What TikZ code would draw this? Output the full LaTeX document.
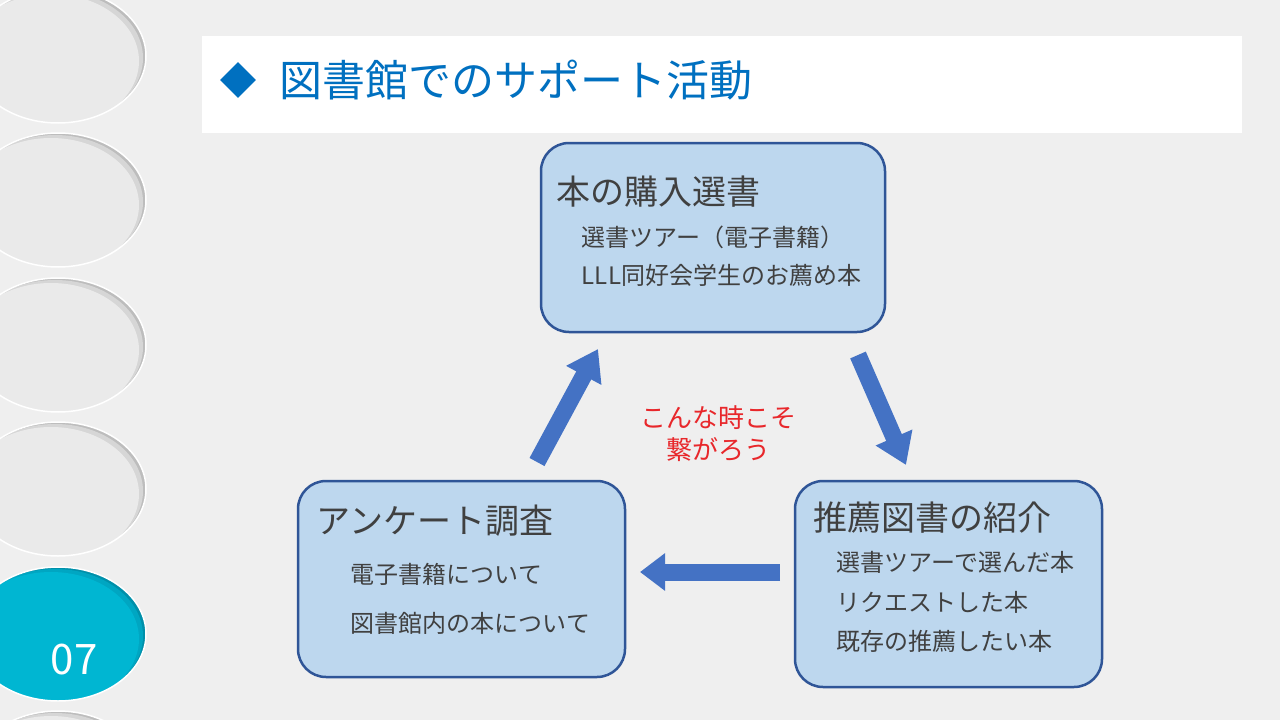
\documentclass[tikz,border=0pt]{standalone}
\usepackage{fontspec}
\setmainfont{Noto Sans CJK JP}
\usetikzlibrary{calc,arrows.meta,shapes.geometric}
\definecolor{bg}{HTML}{EFEFEF}
\definecolor{titleblue}{HTML}{0070C0}
\definecolor{boxfill}{HTML}{BDD7EE}
\definecolor{boxline}{HTML}{2F5597}
\definecolor{arrowfill}{HTML}{4472C4}
\definecolor{txt}{HTML}{404040}
\definecolor{accent}{HTML}{E8272B}
\definecolor{ovalface}{HTML}{EAEAEA}
\definecolor{ovalmid}{HTML}{D6D6D6}
\definecolor{ovalshadow}{HTML}{BDBDBD}
\definecolor{cyanface}{HTML}{00B6D2}
\definecolor{cyanmid}{HTML}{00A6C2}
\definecolor{cyanshadow}{HTML}{0090AA}
\newcommand{\sideOval}[4]{% centre y, face, mid, shadow
\begin{scope}
\clip (58,#1) ellipse [x radius=88,y radius=67];
\fill[#4] (58,#1) ellipse [x radius=88,y radius=67];
\fill[#3] ($(58,#1)+(-3,2)$) ellipse [x radius=88,y radius=67];
\fill[#2] ($(58,#1)+(-7,5)$) ellipse [x radius=88,y radius=67];
\end{scope}
\draw[white,line width=1.5pt] (58,#1) ellipse [x radius=88,y radius=67];
}

\begin{document}
\begin{tikzpicture}[x=1pt,y=-1pt,
  box/.style={draw=boxline,fill=boxfill,line width=2.5pt,rounded corners=28pt,inner sep=0pt},
  head/.style={anchor=west,inner sep=0pt,text=txt,font=\fontsize{34}{36}\selectfont},
  item/.style={anchor=west,inner sep=0pt,text=txt,font=\fontsize{24}{28}\selectfont},
  flow/.style={draw=arrowfill,line width=17pt,-{Triangle[length=30pt 0,width=38pt 0]}}
]
\useasboundingbox (0,0) rectangle (1280,720);
\fill[bg] (0,0) rectangle (1280,720);
%side tabs
\foreach \cy in {56,200,345,489,778}
  \sideOval{\cy}{ovalface}{ovalmid}{ovalshadow};
\sideOval{634}{cyanface}{cyanmid}{cyanshadow}
\node[text=white,font=\fontsize{42}{44}\selectfont] (num) at (74,660) {07};
%title bar
\fill[white] (202,36) rectangle (1242,133);
\node[diamond,fill=titleblue,minimum size=36pt,inner sep=0pt] (mark) at (238,80) {};
\node[anchor=west,inner sep=0pt,text=titleblue,font=\fontsize{43}{46}\selectfont] (title) at (279,80) {図書館でのサポート活動};
%boxes
\node[box,minimum width=344pt,minimum height=189pt] (buy) at (713,237.5) {};
\node[box,minimum width=327pt,minimum height=196pt] (survey) at (461.5,579) {};
\node[box,minimum width=307pt,minimum height=206pt] (rec) at (948.5,584) {};
\node[head] (buyhead) at ($(buy.north west)+(17,50)$) {本の購入選書};
\node[item] (buy1) at ($(buy.north west)+(42,96)$) {選書ツアー（電子書籍）};
\node[item] (buy2) at ($(buy.north west)+(42,134)$) {LLL同好会学生のお薦め本};
\node[head] (surveyhead) at ($(survey.north west)+(20,41)$) {アンケート調査};
\node[item] (survey1) at ($(survey.north west)+(54,95)$) {電子書籍について};
\node[item] (survey2) at ($(survey.north west)+(54,144)$) {図書館内の本について};
\node[head] (rechead) at ($(rec.north west)+(20,38)$) {推薦図書の紹介};
\node[item] (rec1) at ($(rec.north west)+(43,83)$) {選書ツアーで選んだ本};
\node[item] (rec2) at ($(rec.north west)+(43,123)$) {リクエストした本};
\node[item] (rec3) at ($(rec.north west)+(43,162)$) {既存の推薦したい本};
%arrows between boxes
\coordinate (upfrom) at (537,462);
\coordinate (upto) at (598,349);
\coordinate (downfrom) at (858,355);
\coordinate (downto) at (906,465);
\coordinate (leftfrom) at (780,572);
\coordinate (leftto) at (640,572);
\draw[flow] (upfrom) -- (upto);
\draw[flow] (downfrom) -- (downto);
\draw[flow,-{Triangle[length=25pt 0,width=36pt 0]}] (leftfrom) -- (leftto);
\node[text=accent,font=\fontsize{26}{32}\selectfont,align=center] (motto) at (718,434) {こんな時こそ\\繋がろう};
\end{tikzpicture}
\end{document}
